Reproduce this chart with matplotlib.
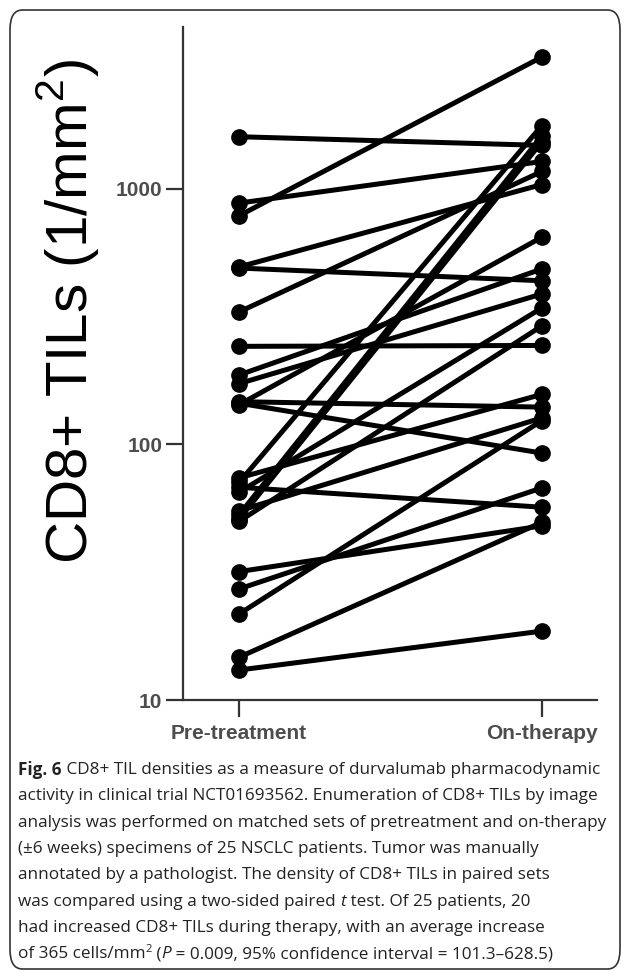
#!/usr/bin/env python3
import matplotlib as mpl
mpl.use('Agg')
import matplotlib.pyplot as plt
from matplotlib.patches import FancyBboxPatch

# paired CD8+ TIL densities (1/mm^2)
pre_treatment = [1600, 880, 785, 495, 490, 330, 242, 187, 173, 147, 145, 143,
                 74, 71, 68, 65, 55, 53, 51, 50, 31.8, 27.2, 21.7, 14.7, 13.1]
on_therapy = [1480, 1280, 3280, 1040, 437, 1170, 244, 486, 388, 140, 92.5, 647,
              157, 1770, 56.8, 342, 127, 1610, 1530, 291, 48, 67.6, 124, 49.6, 18.6]
groups = ['Pre-treatment', 'On-therapy']
yticks = [10, 100, 1000]

caption = [
	[("Fig. 6", 'bold'), (" CD8+ TIL densities as a measure of durvalumab pharmacodynamic", 'normal')],
	[("activity in clinical trial NCT01693562. Enumeration of CD8+ TILs by image", 'normal')],
	[("analysis was performed on matched sets of pretreatment and on-therapy", 'normal')],
	[("(\u00b16 weeks) specimens of 25 NSCLC patients. Tumor was manually", 'normal')],
	[("annotated by a pathologist. The density of CD8+ TILs in paired sets", 'normal')],
	[("was compared using a two-sided paired ", 'normal'), ("t", 'italic'),
	 (" test. Of 25 patients, 20", 'normal')],
	[("had increased CD8+ TILs during therapy, with an average increase", 'normal')],
	[("of 365 cells/mm", 'normal'), ("2", 'sup'), (" (", 'normal'), ("P", 'italic'),
	 (" = 0.009, 95% confidence interval = 101.3\u2013628.5)", 'normal')],
]

W, H = 627, 977
plt.rcParams['mathtext.fontset'] = 'custom'
plt.rcParams['mathtext.rm'] = 'Liberation Sans'
plt.rcParams['font.family'] = 'Liberation Sans'

fig = plt.figure(figsize=(W / 100, H / 100), dpi=100)
ax = fig.add_axes([183 / W, 1 - 700 / H, (597 - 183) / W, (700 - 27) / H])

for a, b in zip(pre_treatment, on_therapy):
	ax.plot([0, 1], [a, b], color='black', lw=3.6, marker='o', ms=11,
	        solid_capstyle='round')

ax.set_yscale('log')
ax.set_ylim(10, 4300)
ax.set_xlim(-0.185, 1.182)
ax.set_yticks(yticks)
ax.set_yticklabels([str(t) for t in yticks])
ax.minorticks_off()
ax.set_xticks([0, 1])
ax.set_xticklabels(groups)
for s in ['top', 'right']:
	ax.spines[s].set_visible(False)
for s in ['left', 'bottom']:
	ax.spines[s].set_color('#333333')
	ax.spines[s].set_linewidth(1.6)
ax.tick_params(length=12, width=1.6, color='#333333', labelcolor='#4d4d4d')
ax.tick_params(axis='y', pad=3)
ax.tick_params(axis='x', pad=5)
for lab in ax.get_xticklabels() + ax.get_yticklabels():
	lab.set_fontsize(15)
	lab.set_fontweight('bold')

fig.text(68 / W, 1 - 312 / H, 'CD8+ TILs (1/mm$^2$)', rotation=90,
         fontsize=42, ha='center', va='center', color='black')

# rounded frame around figure + caption
fig.patches.append(FancyBboxPatch((10 / W, 1 - 969 / H), 610 / W, 959 / H,
                                  boxstyle='round,pad=0,rounding_size=0.02',
                                  transform=fig.transFigure, fill=False,
                                  edgecolor='#333333', lw=1.2))

# caption, drawn run by run so bold/italic/superscript can be mixed
renderer = fig.canvas.get_renderer()
x0, y0, dy = 18, 770, 26.3
for i, line in enumerate(caption):
	x = x0
	y = y0 + i * dy
	for txt, style in line:
		kw = dict(fontsize=12.3, family='Open Sans', color='#222222', va='center')
		yy = y
		if style == 'bold':
			kw['fontweight'] = 'bold'
		elif style == 'italic':
			kw['fontstyle'] = 'italic'
		elif style == 'sup':
			kw['fontsize'] = 8
			yy = y - 5
		t = fig.text(x / W, 1 - yy / H, txt, **kw)
		bb = t.get_window_extent(renderer)
		x += bb.width

fig.savefig('out.png', dpi=100)
